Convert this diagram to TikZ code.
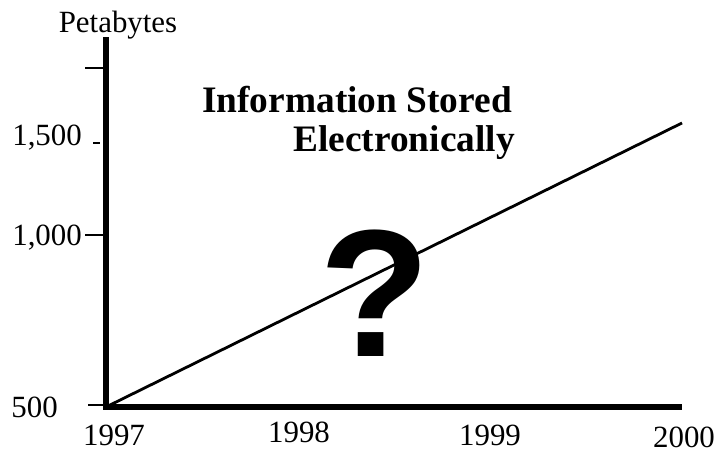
\documentclass[tikz,border=0pt]{standalone}
\usepackage{fontspec}
\setmainfont{Liberation Serif}
\newfontfamily\qfont{Liberation Sans}
\begin{document}
\begin{tikzpicture}[x=1bp,y=1bp,
    axis/.style={line width=6bp},
    tick/.style={line width=1.6bp},
    trend/.style={line width=2.8bp},
    lbl/.style={inner sep=0pt, font=\fontsize{31}{34}\selectfont},
    ttl/.style={inner sep=0pt, anchor=base east, font=\fontsize{37.5}{41}\selectfont\bfseries}]

        \useasboundingbox (0,0) rectangle (719,451);

        \coordinate (o)    at (106,44);
        \coordinate (xend) at (682,44);
        \coordinate (ytop) at (106,414);
        \coordinate (top)  at (682,328);

        % axes and the line
        \draw[axis] (o) ++(-3,0) -- (xend);
        \draw[axis] (o) ++(0,-3) -- (ytop);
        \draw[trend] (o) -- (top);

        % ticks
        \draw[tick] (85,383) -- (106,383);
        \draw[tick] (93,308) -- (100,308);
        \draw[tick] (85,216) -- (106,216);
        \draw[tick] (88,46)  -- (106,46);

        \begin{scope}[every node/.style={lbl}]
          \node[anchor=base]      (pb)   at (118,418) {Petabytes};
          \node[anchor=base east] (v1500) at (82,305) {1,500};
          \node[anchor=base east] (v1000) at (82,205) {1,000};
          \node[anchor=base east] (v500)  at (58,33)  {500};
          \node[anchor=base] (y97) at (114,5) {1997};
          \node[anchor=base] (y98) at (299,8) {1998};
          \node[anchor=base] (y99) at (490,5) {1999};
          \node[anchor=base] (y00) at (684,3) {2000};
        \end{scope}

        \node[ttl] (t1) at (512,338) {Information Stored};
        \node[ttl] (t2) at (515,299) {Electronically};

        \node[inner sep=0pt, anchor=base, font=\qfont\bfseries\fontsize{182}{182}\selectfont] (q) at (375,94) {?};

      \end{tikzpicture}
\end{document}
